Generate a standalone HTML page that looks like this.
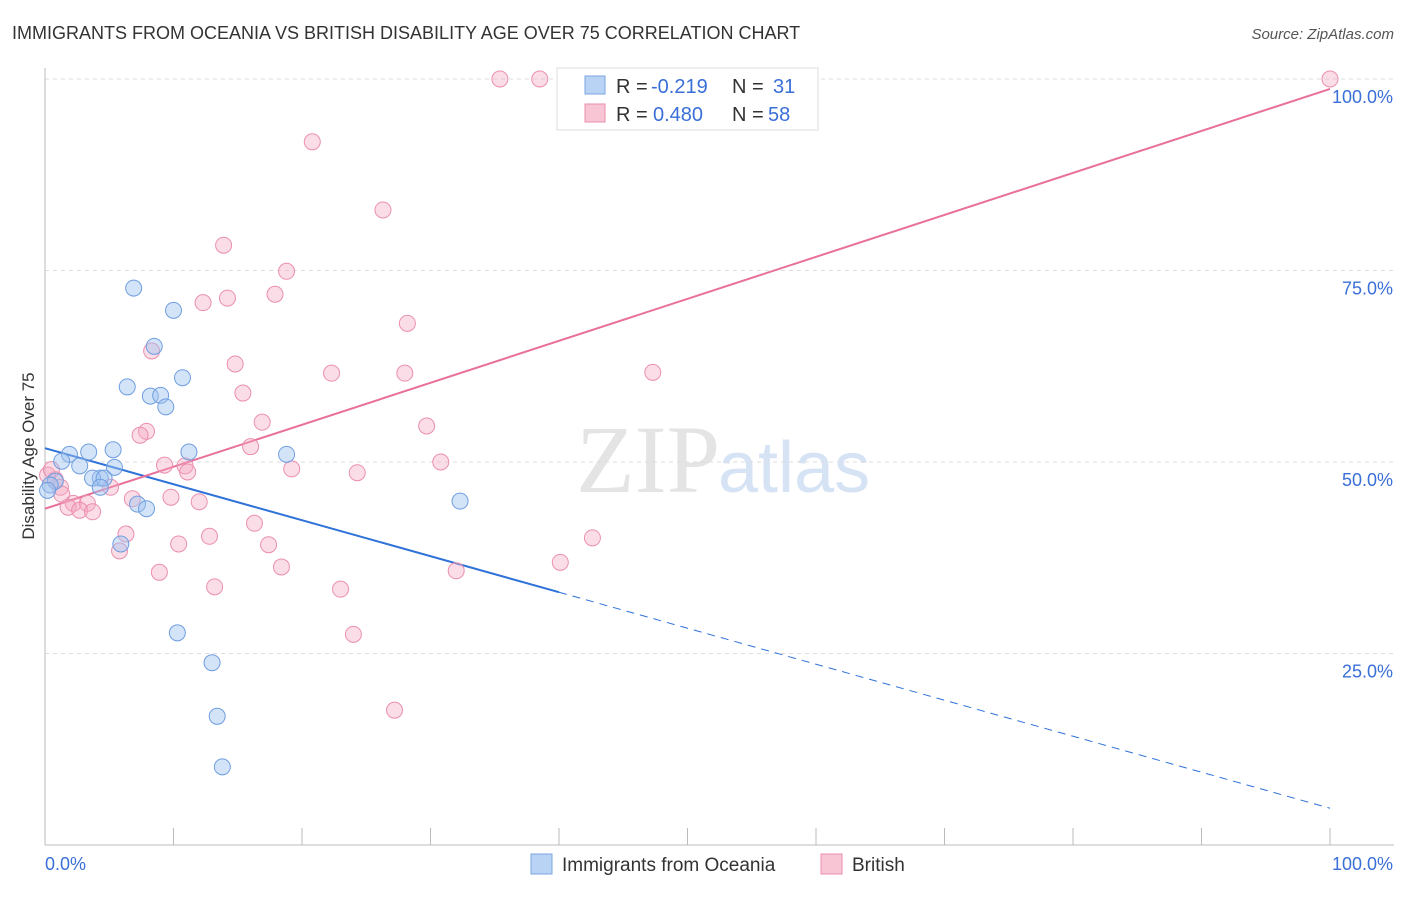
<!DOCTYPE html>
<html><head><meta charset="utf-8"><style>
body{margin:0;background:#fff;font-family:"Liberation Sans",sans-serif;}
</style></head><body>
<svg id="chart" width="1406" height="892" xmlns="http://www.w3.org/2000/svg" font-family="Liberation Sans, sans-serif">
<text x="12" y="39" font-size="18" fill="#333">IMMIGRANTS FROM OCEANIA VS BRITISH DISABILITY AGE OVER 75 CORRELATION CHART</text>
<text x="1394" y="39" font-size="15" fill="#555" font-style="italic" text-anchor="end">Source: ZipAtlas.com</text>
<text x="720" y="492" font-size="96" fill="#e4e4e4" text-anchor="end" font-family="Liberation Serif, serif">ZIP</text>
<text x="718" y="492" font-size="72" fill="#d5e3f5">atlas</text>
<text transform="translate(34,456) rotate(-90)" font-size="17" fill="#333" text-anchor="middle">Disability Age Over 75</text>
<g id="grid"></g><g id="trends"></g><g id="points"></g>
<g>
<rect x="557" y="68" width="261" height="62" fill="#fff" stroke="#ddd"/>
<rect x="585" y="76" width="20" height="18" fill="#b9d3f5" stroke="#7aa6e0"/>
<rect x="585" y="104" width="20" height="18" fill="#f8c5d5" stroke="#eb8fae"/>
<text x="616" y="93" font-size="20" fill="#333">R =</text>
<text x="651" y="93" font-size="20" fill="#3a6fd8">-0.219</text>
<text x="732" y="93" font-size="20" fill="#333">N =</text>
<text x="773" y="93" font-size="20" fill="#3a6fd8">31</text>
<text x="616" y="121" font-size="20" fill="#333">R =</text>
<text x="653" y="121" font-size="20" fill="#3a6fd8">0.480</text>
<text x="732" y="121" font-size="20" fill="#333">N =</text>
<text x="768" y="121" font-size="20" fill="#3a6fd8">58</text>
</g>
<g>
<rect x="531" y="854" width="21" height="20" fill="#b9d3f5" stroke="#7aa6e0"/>
<text x="562" y="871" font-size="19" fill="#333">Immigrants from Oceania</text>
<rect x="821" y="854" width="21" height="20" fill="#f8c5d5" stroke="#eb8fae"/>
<text x="852" y="871" font-size="19" fill="#333">British</text>
</g>
</svg>
<script>
const blueX=[6.9,10.0,8.5,10.7,6.4,8.2,9.0,9.4,5.3,3.4,1.9,1.3,2.7,5.4,4.3,3.7,4.6,0.8,0.4,4.3,7.2,7.9,11.2,18.8,32.3,5.9,10.3,13.0,13.4,13.8,0.2];
const blueY=[72.7,69.8,65.1,61.0,59.8,58.6,58.7,57.2,51.6,51.3,51.0,50.1,49.5,49.3,47.9,47.9,47.9,47.5,47.0,46.7,44.5,43.9,51.3,51.0,44.9,39.3,27.7,23.8,16.8,10.2,46.3];
const pinkX=[35.4,38.5,52.1,100,20.8,26.3,13.9,18.8,12.3,14.2,17.9,28.2,8.3,14.8,22.3,28.0,47.3,15.4,16.9,29.7,7.9,7.4,16.0,30.8,9.3,10.9,11.1,19.2,24.3,0.8,1.2,5.1,1.3,9.8,6.8,12.0,2.2,3.3,1.8,2.7,3.7,16.3,6.3,12.8,10.4,17.4,42.6,5.8,40.1,18.4,8.9,32.0,13.2,23.0,24.0,27.2,0.2,0.5];
const pinkY=[100,100,100,100,91.8,82.9,78.3,74.9,70.8,71.4,71.9,68.1,64.5,62.8,61.6,61.6,61.7,59.0,55.2,54.7,54.0,53.5,52.0,50.0,49.6,49.5,48.7,49.1,48.6,47.7,46.7,46.7,45.8,45.4,45.2,44.8,44.6,44.6,44.1,43.7,43.5,42.0,40.6,40.3,39.3,39.2,40.1,38.4,36.9,36.3,35.6,35.8,33.7,33.4,27.5,17.6,48.3,49.0];
const yTicks=[25,50,75,100];
const yTickLabels=["25.0%","50.0%","75.0%","100.0%"];
const blueTrend=[51.8,4.8];
const pinkTrend=[43.9,98.7];
const NS="http://www.w3.org/2000/svg";
const X=v=>45+v*12.85, Y=v=>845-v*7.66;
function mk(tag,attrs,parent){const e=document.createElementNS(NS,tag);for(const k in attrs)e.setAttribute(k,attrs[k]);parent.appendChild(e);return e;}
const grid=document.getElementById('grid');
yTicks.forEach((t,i)=>{
 const l=mk('line',{x1:45,x2:1394,y1:Y(t),y2:Y(t),stroke:'#ddd','stroke-dasharray':'4,4'},grid);
 
 
 const tx=mk('text',{x:1393,y:Y(t)+24,'font-size':18,fill:'#3a6fd8','text-anchor':'end'},grid);
 tx.textContent=yTickLabels[i];
 
 
});
const ax=mk('line',{x1:45,x2:45,y1:68,y2:845,stroke:'#bbb'},grid);


const bx=mk('line',{x1:45,x2:1394,y1:845,y2:845,stroke:'#bbb'},grid);


for(let i=1;i<=10;i++){const t=mk('line',{x1:X(i*10),x2:X(i*10),y1:828,y2:845,stroke:'#bbb'},grid);
 
 }
const xl=mk('text',{x:45,y:870,'font-size':18,fill:'#3a6fd8'},grid);xl.textContent='0.0%';


const xr=mk('text',{x:1393,y:870,'font-size':18,fill:'#3a6fd8','text-anchor':'end'},grid);xr.textContent='100.0%';


const tr=document.getElementById('trends');
const by=x=>blueTrend[0]+(blueTrend[1]-blueTrend[0])*x/100;
const b1=mk('line',{x1:X(0),y1:Y(by(0)),x2:X(40),y2:Y(by(40)),stroke:'#2f72d8','stroke-width':2},tr);


const b2=mk('line',{x1:X(40),y1:Y(by(40)),x2:X(100),y2:Y(by(100)),stroke:'#2f72d8','stroke-width':1,'stroke-dasharray':'8,6'},tr);


const p1=mk('line',{x1:X(0),y1:Y(pinkTrend[0]),x2:X(100),y2:Y(pinkTrend[1]),stroke:'#e8709a','stroke-width':2},tr);


const pts=document.getElementById('points');
pinkX.forEach((x,i)=>{const c=mk('circle',{cx:X(x),cy:Y(pinkY[i]),r:8,fill:'rgba(245,170,195,0.4)',stroke:'#eb8fae','stroke-width':1},pts);
 
 });
blueX.forEach((x,i)=>{const c=mk('circle',{cx:X(x),cy:Y(blueY[i]),r:8,fill:'rgba(160,195,240,0.45)',stroke:'#6f9ee0','stroke-width':1},pts);
 
 });
</script>
</body></html>
